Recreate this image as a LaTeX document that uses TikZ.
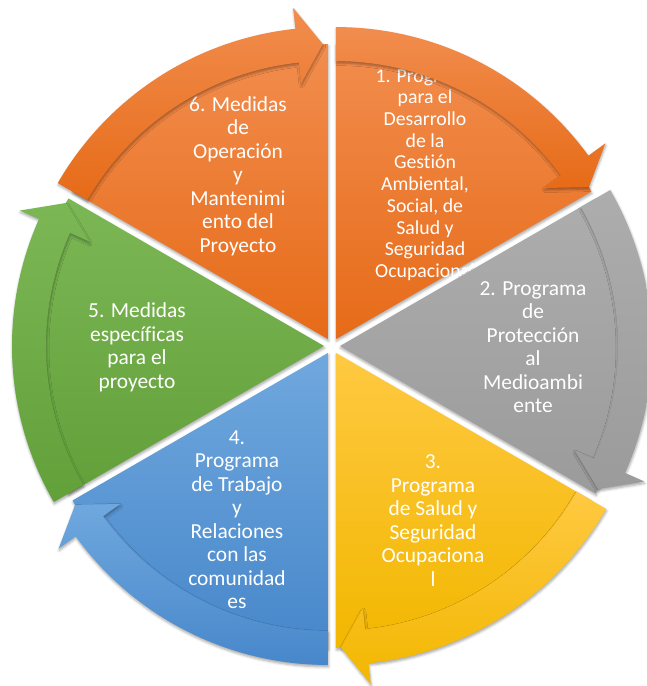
\documentclass[tikz,border=0pt]{standalone}
\usepackage{fontspec}
\setmainfont{Carlito}[Ligatures=NoCommon]
\usetikzlibrary{shadows.blur}
\definecolor{orT}{HTML}{F28D4E}
\definecolor{orB}{HTML}{E66B18}
\definecolor{grT}{HTML}{ADADAD}
\definecolor{grB}{HTML}{9B9B9B}
\definecolor{yeT}{HTML}{FFC942}
\definecolor{yeB}{HTML}{F2B700}
\definecolor{blT}{HTML}{70A8DE}
\definecolor{blB}{HTML}{4787CA}
\definecolor{gnT}{HTML}{7CB755}
\definecolor{gnB}{HTML}{62A03A}
\tikzset{
  lbl/.style={text=white, align=center, inner sep=0pt, font=\fontsize{21.4}{23.5}\selectfont},
  lblsmall/.style={lbl, font=\fontsize{19.8}{21.7}\selectfont},
  shd/.style={blur shadow={shadow xshift=0.5pt, shadow yshift=-2pt, shadow blur radius=2.5pt, shadow opacity=35}},
}
\newcommand\SegWedge[3]{%
  \pgfmathsetmacro\sA{#1}\pgfmathsetmacro\eA{#1-60}\pgfmathsetmacro\mA{#1-30}%
  \begin{scope}[shift={(\mA:8)}]
    \path[shd, top color=#2, bottom color=#3] (0,0) -- (\sA:295) arc[start angle=\sA, end angle=\eA, radius=295] -- cycle;
  \end{scope}}
\newcommand\SegArrow[3]{%
  \pgfmathsetmacro\sA{#1}\pgfmathsetmacro\mA{#1-30}%
  \pgfmathsetmacro\hA{#1-54}\pgfmathsetmacro\tA{#1-59}%
  \begin{scope}[shift={(\mA:8)}]
    \path[shd, top color=#2, bottom color=#3] (\sA:312) arc[start angle=\sA, end angle=\hA, radius=312]
      -- (\hA:333) -- (\tA:295) -- (\hA:257) -- (\hA:278)
      arc[start angle=\hA, end angle=\sA, radius=278] -- cycle;
  \end{scope}}
\begin{document}
\begin{tikzpicture}[x=1pt, y=1pt]
\useasboundingbox (-332,-340) rectangle (314,346);
% wedges with their texts
\SegWedge{90}{orT}{orB}
\node[lblsmall] (t1) at (93,171) {1. Programa\\para el\\Desarrollo\\de la\\Gestión\\Ambiental,\\Social, de\\Salud y\\Seguridad\\Ocupacional};
\SegWedge{30}{grT}{grB}
\node[lbl] (t2) at (201,-1) {2. Programa\\de\\Protección\\al\\Medioambi\\ente};
\SegWedge{-30}{yeT}{yeB}
\node[lbl] (t3) at (101,-174.5) {3.\\Programa\\de Salud y\\Seguridad\\Ocupaciona\\l};
\SegWedge{-90}{blT}{blB}
\node[lbl] (t4) at (-95,-173.5) {4.\\Programa\\de Trabajo\\y\\Relaciones\\con las\\comunidad\\es};
\SegWedge{-150}{gnT}{gnB}
\node[lbl] (t5) at (-195,-1.5) {5. Medidas\\específicas\\para el\\proyecto};
\SegWedge{150}{orT}{orB}
\node[lbl] (t6) at (-94,170) {6. Medidas\\de\\Operación\\y\\Mantenimi\\ento del\\Proyecto};
% circular arrows
\SegArrow{90}{orT}{orB}
\SegArrow{30}{grT}{grB}
\SegArrow{-30}{yeT}{yeB}
\SegArrow{-90}{blT}{blB}
\SegArrow{-150}{gnT}{gnB}
\SegArrow{150}{orT}{orB}
\end{tikzpicture}
\end{document}
